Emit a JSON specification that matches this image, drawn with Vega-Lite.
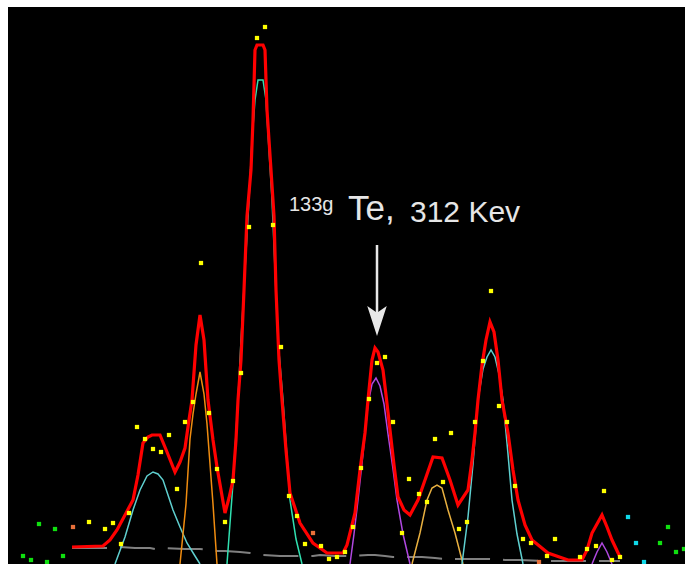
{
  "$schema": "https://vega.github.io/schema/vega-lite/v6.json",
  "width": 677,
  "height": 557,
  "autosize": {"type": "none"},
  "padding": {"left": 8, "top": 7, "right": 0, "bottom": 0},
  "background": "white",
  "config": {"view": {"fill": "black", "stroke": null}},
  "datasets": {
    "fit": [
      {"ch": 72, "c": 17}, {"ch": 103, "c": 18}, {"ch": 110, "c": 24}, {"ch": 117, "c": 34}, {"ch": 125, "c": 49},
      {"ch": 133, "c": 64}, {"ch": 138, "c": 89}, {"ch": 143, "c": 121}, {"ch": 148, "c": 127}, {"ch": 152, "c": 129},
      {"ch": 160, "c": 129}, {"ch": 167, "c": 112}, {"ch": 175, "c": 92}, {"ch": 180, "c": 102}, {"ch": 185, "c": 116},
      {"ch": 189, "c": 144}, {"ch": 192, "c": 164}, {"ch": 196, "c": 219}, {"ch": 200, "c": 249}, {"ch": 204, "c": 224},
      {"ch": 208, "c": 164}, {"ch": 213, "c": 124}, {"ch": 217, "c": 97}, {"ch": 221, "c": 74}, {"ch": 225, "c": 51},
      {"ch": 229, "c": 66}, {"ch": 233, "c": 84}, {"ch": 236, "c": 124}, {"ch": 238, "c": 164}, {"ch": 241, "c": 204},
      {"ch": 244, "c": 274}, {"ch": 247, "c": 348}, {"ch": 251, "c": 394}, {"ch": 253, "c": 444}, {"ch": 255, "c": 514},
      {"ch": 257, "c": 519}, {"ch": 263, "c": 519}, {"ch": 265, "c": 514}, {"ch": 267, "c": 454}, {"ch": 271, "c": 394},
      {"ch": 274, "c": 348}, {"ch": 276, "c": 274}, {"ch": 279, "c": 204}, {"ch": 282, "c": 164}, {"ch": 286, "c": 114},
      {"ch": 290, "c": 71}, {"ch": 300, "c": 41}, {"ch": 313, "c": 21}, {"ch": 327, "c": 11}, {"ch": 343, "c": 11},
      {"ch": 347, "c": 19}, {"ch": 355, "c": 51}, {"ch": 360, "c": 94}, {"ch": 365, "c": 131}, {"ch": 368, "c": 164},
      {"ch": 372, "c": 204}, {"ch": 375, "c": 216}, {"ch": 378, "c": 212}, {"ch": 383, "c": 194}, {"ch": 386, "c": 169},
      {"ch": 390, "c": 134}, {"ch": 394, "c": 99}, {"ch": 398, "c": 67}, {"ch": 404, "c": 54}, {"ch": 410, "c": 49},
      {"ch": 418, "c": 64}, {"ch": 425, "c": 84}, {"ch": 433, "c": 107}, {"ch": 442, "c": 106}, {"ch": 450, "c": 84},
      {"ch": 458, "c": 59}, {"ch": 468, "c": 74}, {"ch": 472, "c": 104}, {"ch": 475, "c": 131}, {"ch": 478, "c": 164},
      {"ch": 482, "c": 199}, {"ch": 486, "c": 224}, {"ch": 490, "c": 242}, {"ch": 494, "c": 232}, {"ch": 498, "c": 204},
      {"ch": 502, "c": 164}, {"ch": 508, "c": 131}, {"ch": 513, "c": 94}, {"ch": 518, "c": 64}, {"ch": 525, "c": 39},
      {"ch": 532, "c": 24}, {"ch": 548, "c": 11}, {"ch": 568, "c": 4}, {"ch": 582, "c": 4}, {"ch": 587, "c": 14},
      {"ch": 592, "c": 31}, {"ch": 602, "c": 49}, {"ch": 607, "c": 37}, {"ch": 612, "c": 24}, {"ch": 620, "c": 7}
    ],
    "comps": [
      {"peak": "p1", "ch": 115, "c": 0}, {"peak": "p1", "ch": 125, "c": 27}, {"peak": "p1", "ch": 133, "c": 54},
      {"peak": "p1", "ch": 140, "c": 74}, {"peak": "p1", "ch": 147, "c": 88}, {"peak": "p1", "ch": 153, "c": 92},
      {"peak": "p1", "ch": 158, "c": 90}, {"peak": "p1", "ch": 163, "c": 84}, {"peak": "p1", "ch": 168, "c": 69},
      {"peak": "p1", "ch": 173, "c": 54}, {"peak": "p1", "ch": 180, "c": 37}, {"peak": "p1", "ch": 187, "c": 21},
      {"peak": "p1", "ch": 195, "c": 8}, {"peak": "p1", "ch": 200, "c": 0},
      {"peak": "p2", "ch": 180, "c": 0}, {"peak": "p2", "ch": 186, "c": 60}, {"peak": "p2", "ch": 190, "c": 125},
      {"peak": "p2", "ch": 193, "c": 150}, {"peak": "p2", "ch": 196, "c": 170}, {"peak": "p2", "ch": 200, "c": 192},
      {"peak": "p2", "ch": 204, "c": 170}, {"peak": "p2", "ch": 207, "c": 140}, {"peak": "p2", "ch": 210, "c": 100},
      {"peak": "p2", "ch": 213, "c": 60}, {"peak": "p2", "ch": 217, "c": 0},
      {"peak": "p3", "ch": 227, "c": 0}, {"peak": "p3", "ch": 233, "c": 81}, {"peak": "p3", "ch": 238, "c": 164},
      {"peak": "p3", "ch": 241, "c": 224}, {"peak": "p3", "ch": 245, "c": 294}, {"peak": "p3", "ch": 249, "c": 364},
      {"peak": "p3", "ch": 252, "c": 424}, {"peak": "p3", "ch": 255, "c": 464}, {"peak": "p3", "ch": 258, "c": 484},
      {"peak": "p3", "ch": 263, "c": 484}, {"peak": "p3", "ch": 266, "c": 464}, {"peak": "p3", "ch": 269, "c": 414},
      {"peak": "p3", "ch": 272, "c": 364}, {"peak": "p3", "ch": 275, "c": 294}, {"peak": "p3", "ch": 278, "c": 224},
      {"peak": "p3", "ch": 283, "c": 164}, {"peak": "p3", "ch": 290, "c": 64}, {"peak": "p3", "ch": 296, "c": 25},
      {"peak": "p3", "ch": 302, "c": 0},
      {"peak": "p4", "ch": 350, "c": 0}, {"peak": "p4", "ch": 354, "c": 30}, {"peak": "p4", "ch": 358, "c": 64},
      {"peak": "p4", "ch": 363, "c": 110}, {"peak": "p4", "ch": 368, "c": 160}, {"peak": "p4", "ch": 372, "c": 180},
      {"peak": "p4", "ch": 376, "c": 186}, {"peak": "p4", "ch": 380, "c": 178}, {"peak": "p4", "ch": 384, "c": 160},
      {"peak": "p4", "ch": 388, "c": 130}, {"peak": "p4", "ch": 393, "c": 95}, {"peak": "p4", "ch": 397, "c": 64},
      {"peak": "p4", "ch": 403, "c": 30}, {"peak": "p4", "ch": 410, "c": 0},
      {"peak": "p5", "ch": 412, "c": 0}, {"peak": "p5", "ch": 420, "c": 31}, {"peak": "p5", "ch": 427, "c": 64},
      {"peak": "p5", "ch": 432, "c": 76}, {"peak": "p5", "ch": 437, "c": 79}, {"peak": "p5", "ch": 442, "c": 76},
      {"peak": "p5", "ch": 448, "c": 54}, {"peak": "p5", "ch": 455, "c": 31}, {"peak": "p5", "ch": 463, "c": 0},
      {"peak": "p6", "ch": 462, "c": 0}, {"peak": "p6", "ch": 468, "c": 47}, {"peak": "p6", "ch": 473, "c": 100},
      {"peak": "p6", "ch": 478, "c": 164}, {"peak": "p6", "ch": 483, "c": 195}, {"peak": "p6", "ch": 487, "c": 207},
      {"peak": "p6", "ch": 491, "c": 214}, {"peak": "p6", "ch": 495, "c": 207}, {"peak": "p6", "ch": 499, "c": 190},
      {"peak": "p6", "ch": 503, "c": 164}, {"peak": "p6", "ch": 508, "c": 110}, {"peak": "p6", "ch": 512, "c": 64},
      {"peak": "p6", "ch": 517, "c": 30}, {"peak": "p6", "ch": 523, "c": 0},
      {"peak": "p7", "ch": 592, "c": 0}, {"peak": "p7", "ch": 597, "c": 12}, {"peak": "p7", "ch": 602, "c": 21},
      {"peak": "p7", "ch": 607, "c": 12}, {"peak": "p7", "ch": 612, "c": 0}
    ],
    "base": [
      {"ch": 72, "c": 16}, {"ch": 103, "c": 16}, {"ch": 110, "c": 16}, {"ch": 120, "c": 17}, {"ch": 135, "c": 16},
      {"ch": 150, "c": 16}, {"ch": 155, "c": 15}, {"ch": 165, "c": 16}, {"ch": 185, "c": 15}, {"ch": 200, "c": 15},
      {"ch": 210, "c": 14}, {"ch": 217, "c": 13}, {"ch": 225, "c": 13}, {"ch": 240, "c": 12}, {"ch": 250, "c": 11},
      {"ch": 263, "c": 9}, {"ch": 280, "c": 8}, {"ch": 297, "c": 8}, {"ch": 313, "c": 8}, {"ch": 320, "c": 9},
      {"ch": 335, "c": 8}, {"ch": 350, "c": 8}, {"ch": 368, "c": 9}, {"ch": 375, "c": 9}, {"ch": 385, "c": 8},
      {"ch": 393, "c": 7}, {"ch": 405, "c": 7}, {"ch": 422, "c": 7}, {"ch": 435, "c": 6}, {"ch": 445, "c": 5},
      {"ch": 460, "c": 5}, {"ch": 475, "c": 5}, {"ch": 490, "c": 5}, {"ch": 505, "c": 4}, {"ch": 520, "c": 4},
      {"ch": 542, "c": 3}, {"ch": 568, "c": 3}, {"ch": 590, "c": 3}, {"ch": 608, "c": 3}, {"ch": 620, "c": 3}
    ],
    "pts": [
      {"k": "y", "ch": 89, "c": 42}, {"k": "y", "ch": 105, "c": 35}, {"k": "y", "ch": 113, "c": 41}, {"k": "y", "ch": 121, "c": 20},
      {"k": "y", "ch": 129, "c": 51}, {"k": "y", "ch": 137, "c": 137}, {"k": "y", "ch": 145, "c": 125}, {"k": "y", "ch": 153, "c": 115},
      {"k": "y", "ch": 161, "c": 112}, {"k": "y", "ch": 169, "c": 129}, {"k": "y", "ch": 177, "c": 75}, {"k": "y", "ch": 185, "c": 142},
      {"k": "y", "ch": 193, "c": 162}, {"k": "y", "ch": 201, "c": 301}, {"k": "y", "ch": 209, "c": 151}, {"k": "y", "ch": 217, "c": 95},
      {"k": "y", "ch": 225, "c": 42}, {"k": "y", "ch": 233, "c": 83}, {"k": "y", "ch": 241, "c": 191}, {"k": "y", "ch": 249, "c": 337},
      {"k": "y", "ch": 257, "c": 526}, {"k": "y", "ch": 265, "c": 537}, {"k": "y", "ch": 273, "c": 339}, {"k": "y", "ch": 281, "c": 217},
      {"k": "y", "ch": 289, "c": 68}, {"k": "y", "ch": 297, "c": 48}, {"k": "y", "ch": 305, "c": 20}, {"k": "y", "ch": 321, "c": 18},
      {"k": "y", "ch": 329, "c": 5}, {"k": "y", "ch": 337, "c": 7}, {"k": "y", "ch": 345, "c": 12}, {"k": "y", "ch": 353, "c": 37},
      {"k": "y", "ch": 361, "c": 96}, {"k": "y", "ch": 369, "c": 165}, {"k": "y", "ch": 377, "c": 201}, {"k": "y", "ch": 385, "c": 207},
      {"k": "y", "ch": 393, "c": 142}, {"k": "y", "ch": 402, "c": 31}, {"k": "y", "ch": 409, "c": 85}, {"k": "y", "ch": 419, "c": 70},
      {"k": "y", "ch": 427, "c": 62}, {"k": "y", "ch": 435, "c": 125}, {"k": "y", "ch": 443, "c": 82}, {"k": "y", "ch": 451, "c": 131},
      {"k": "y", "ch": 459, "c": 35}, {"k": "y", "ch": 467, "c": 42}, {"k": "y", "ch": 475, "c": 142}, {"k": "y", "ch": 483, "c": 203},
      {"k": "y", "ch": 491, "c": 273}, {"k": "y", "ch": 499, "c": 158}, {"k": "y", "ch": 507, "c": 142}, {"k": "y", "ch": 515, "c": 78},
      {"k": "y", "ch": 523, "c": 25}, {"k": "y", "ch": 531, "c": 21}, {"k": "y", "ch": 547, "c": 8}, {"k": "y", "ch": 555, "c": 25},
      {"k": "y", "ch": 580, "c": 7}, {"k": "y", "ch": 587, "c": 15}, {"k": "y", "ch": 596, "c": 18}, {"k": "y", "ch": 604, "c": 73},
      {"k": "y", "ch": 612, "c": 4}, {"k": "y", "ch": 620, "c": 7},
      {"k": "o", "ch": 73, "c": 37}, {"k": "o", "ch": 313, "c": 31}, {"k": "o", "ch": 539, "c": 2},
      {"k": "g", "ch": 23, "c": 8}, {"k": "g", "ch": 31, "c": 4}, {"k": "g", "ch": 39, "c": 40}, {"k": "g", "ch": 47, "c": 2},
      {"k": "g", "ch": 55, "c": 35}, {"k": "g", "ch": 63, "c": 8}, {"k": "g", "ch": 660, "c": 21}, {"k": "g", "ch": 668, "c": 37},
      {"k": "g", "ch": 676, "c": 12}, {"k": "g", "ch": 684, "c": 15},
      {"k": "c", "ch": 628, "c": 47}, {"k": "c", "ch": 636, "c": 21}, {"k": "c", "ch": 644, "c": 2}
    ],
    "arrow": [{"ch": 377, "top": 319, "bot": 250, "head": 243}],
    "sup": [{"ch": 289, "c": 353, "t": "133g"}],
    "el": [{"ch": 348, "c": 344, "t": "Te,"}],
    "en": [{"ch": 410, "c": 342, "t": "312 Kev"}]
  },
  "layer": [
    {
      "data": {"name": "base"},
      "mark": {"type": "line", "color": "#808080", "strokeWidth": 2, "strokeDash": [35, 13], "clip": true},
      "encoding": {
        "x": {"field": "ch", "type": "quantitative", "scale": {"domain": [8, 685], "nice": false, "zero": false}, "axis": null},
        "y": {"field": "c", "type": "quantitative", "scale": {"domain": [0, 557], "nice": false}, "axis": null}
      }
    },
    {
      "data": {"name": "comps"},
      "mark": {"type": "line", "strokeWidth": 1.5, "clip": true},
      "encoding": {
        "x": {"field": "ch", "type": "quantitative"},
        "y": {"field": "c", "type": "quantitative"},
        "color": {"field": "peak", "type": "nominal", "legend": null,
          "scale": {"domain": ["p1", "p2", "p3", "p4", "p5", "p6", "p7"],
                    "range": ["#5fcfcf", "#f08c10", "#30e0b0", "#b048e0", "#e8b040", "#5fd0d0", "#b048e0"]}}
      }
    },
    {
      "data": {"name": "fit"},
      "mark": {"type": "line", "color": "#ff0000", "strokeWidth": 3.2, "clip": true},
      "encoding": {
        "x": {"field": "ch", "type": "quantitative"},
        "y": {"field": "c", "type": "quantitative"}
      }
    },
    {
      "data": {"name": "pts"},
      "mark": {"type": "point", "shape": "square", "filled": true, "size": 18, "opacity": 1, "clip": true},
      "encoding": {
        "x": {"field": "ch", "type": "quantitative"},
        "y": {"field": "c", "type": "quantitative"},
        "fill": {"field": "k", "type": "nominal", "legend": null,
          "scale": {"domain": ["y", "o", "g", "c"], "range": ["#ffff00", "#e8703a", "#10e010", "#10d8e8"]}}
      }
    },
    {
      "data": {"name": "arrow"},
      "mark": {"type": "rule", "color": "#e8e8e8", "strokeWidth": 2.5},
      "encoding": {
        "x": {"field": "ch", "type": "quantitative"},
        "y": {"field": "top", "type": "quantitative"},
        "y2": {"field": "bot"}
      }
    },
    {
      "data": {"name": "arrow"},
      "mark": {"type": "point", "shape": "M0,1 L-0.65,-1 L0,-0.55 L0.65,-1 Z", "filled": true, "color": "#e8e8e8", "size": 900, "opacity": 1, "strokeWidth": 0},
      "encoding": {
        "x": {"field": "ch", "type": "quantitative"},
        "y": {"field": "head", "type": "quantitative"}
      }
    },
    {
      "data": {"name": "sup"},
      "mark": {"type": "text", "font": "Liberation Sans", "fontSize": 20, "color": "#e6e6e6", "align": "left", "baseline": "alphabetic"},
      "encoding": {
        "x": {"field": "ch", "type": "quantitative"},
        "y": {"field": "c", "type": "quantitative"},
        "text": {"field": "t"}
      }
    },
    {
      "data": {"name": "el"},
      "mark": {"type": "text", "font": "Liberation Sans", "fontSize": 35, "color": "#e6e6e6", "align": "left", "baseline": "alphabetic"},
      "encoding": {
        "x": {"field": "ch", "type": "quantitative"},
        "y": {"field": "c", "type": "quantitative"},
        "text": {"field": "t"}
      }
    },
    {
      "data": {"name": "en"},
      "mark": {"type": "text", "font": "Liberation Sans", "fontSize": 30, "color": "#e6e6e6", "align": "left", "baseline": "alphabetic"},
      "encoding": {
        "x": {"field": "ch", "type": "quantitative"},
        "y": {"field": "c", "type": "quantitative"},
        "text": {"field": "t"}
      }
    }
  ]
}
